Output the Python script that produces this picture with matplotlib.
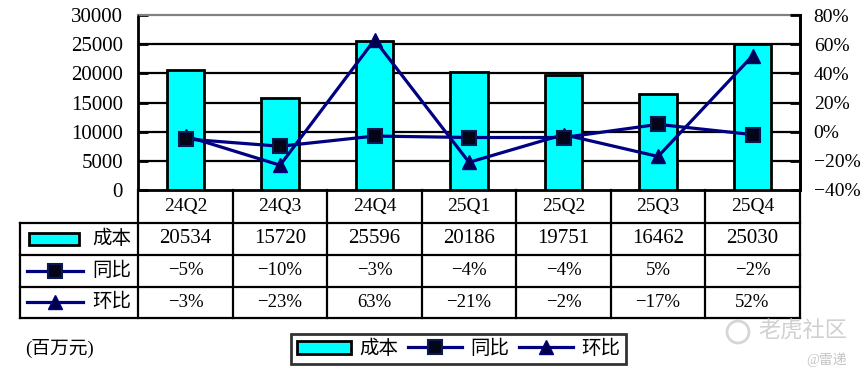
import matplotlib.pyplot as plt
from matplotlib.patches import Rectangle, Circle
from matplotlib.lines import Line2D

# data
quarters = ['24Q2', '24Q3', '24Q4', '25Q1', '25Q2', '25Q3', '25Q4']
cost = [20534, 15720, 25596, 20186, 19751, 16462, 25030]
yoy = [-5, -10, -3, -4, -4, 5, -2]      # 同比 %
qoq = [-3, -23, 63, -21, -2, -17, 52]   # 环比 %

W, H = 864, 382
NUM = ['Liberation Serif', 'Noto Sans CJK SC']
plt.rcParams['font.family'] = NUM
plt.rcParams['font.size'] = 14

navy = '#000080'
cyan = '#00ffff'


def pct(v):
    return f'{v}%'.replace('-', '\u2212')


fig = plt.figure(figsize=(W / 100, H / 100), dpi=100)

# plot area in pixels
x0, x1, ytop, ybot = 138.3, 799.8, 15, 190
ax = fig.add_axes([x0 / W, 1 - ybot / H, (x1 - x0) / W, (ybot - ytop) / H])
xs = list(range(len(quarters)))
bars = ax.bar(xs, cost, width=0.4, color=cyan, edgecolor='black', linewidth=2, zorder=3)
ax.set_xlim(-0.5, len(quarters) - 0.5)
ax.set_ylim(0, 30000)
ax.set_yticks(range(0, 30001, 5000))
ax.set_xticks([])
for v in range(5000, 30000, 5000):
    ax.axhline(v, color='black', lw=1.6, zorder=1)
ax.spines['top'].set_color('#808080')
ax.spines['top'].set_linewidth(1.6)
for s in ['left', 'bottom', 'right']:
    ax.spines[s].set_linewidth(2)
ax.tick_params(axis='y', direction='in', length=7, width=2, pad=11, labelsize=15)

ax2 = ax.twinx()
ax2.set_ylim(-40, 80)
ax2.set_yticks(range(-40, 81, 20))
ax2.set_yticklabels([pct(v) for v in range(-40, 81, 20)])
ax2.tick_params(axis='y', direction='in', length=7, width=2, pad=10, labelsize=14)
ax2.spines['top'].set_visible(False)
ax2.spines['right'].set_linewidth(2)
l_qoq, = ax2.plot(xs, qoq, color=navy, lw=2.3, marker='^', ms=10,
                  mfc='#00004a', mec=navy, zorder=4)
l_yoy, = ax2.plot(xs, yoy, color=navy, lw=2.3, marker='s', ms=9.5,
                  mfc='#05051a', mec='#0a1a50', mew=1.5, zorder=5)

# data table below the chart
ov = fig.add_axes([0, 0, 1, 1])
ov.set_xlim(0, W)
ov.set_ylim(H, 0)
ov.axis('off')
cw = (x1 - x0) / len(quarters)
rows = [190, 222.5, 254.5, 286.5, 318]
lw = 1.6
for i in range(len(quarters) + 1):
    ov.plot([x0 + i * cw] * 2, [rows[0], rows[-1]], color='black', lw=lw)
ov.plot([20, 20], [rows[1], rows[-1]], color='black', lw=lw)
for y in rows[1:]:
    ov.plot([20, x1], [y, y], color='black', lw=lw)

mid = [(rows[k] + rows[k + 1]) / 2 for k in range(4)]
for i, q in enumerate(quarters):
    cx = x0 + (i + 0.5) * cw
    ov.text(cx, mid[0], q, ha='center', va='center', fontsize=14)
    ov.text(cx, mid[1], str(cost[i]), ha='center', va='center', fontsize=15)
    ov.text(cx, mid[2], pct(yoy[i]), ha='center', va='center', fontsize=13.5)
    ov.text(cx, mid[3], pct(qoq[i]), ha='center', va='center', fontsize=13.5)

# row labels with keys
ov.add_patch(Rectangle((29, mid[1] - 6), 50, 12, facecolor=cyan, edgecolor='black', lw=2))
ov.add_line(Line2D([27, 83], [mid[2], mid[2]], color=navy, lw=2.3))
ov.plot([55], [mid[2]], marker='s', ms=9.5, mfc='#05051a', mec='#0a1a50', mew=1.5)
ov.add_line(Line2D([27, 83], [mid[3], mid[3]], color=navy, lw=2.3))
ov.plot([55], [mid[3]], marker='^', ms=10, mfc='#00004a', mec=navy)
for k, name in zip([1, 2, 3], ['成本', '同比', '环比']):
    ov.text(112, mid[k], name, ha='center', va='center', fontsize=14)

ov.text(25, 348, '(百万元)', ha='left', va='center', fontsize=13.5)

# legend
leg = fig.legend([bars, l_yoy, l_qoq], ['成本', '同比', '环比'], ncol=3,
                 loc='center', bbox_to_anchor=(458.5 / W, 1 - 349 / H),
                 frameon=True, fancybox=False, edgecolor='black', fontsize=14,
                 handlelength=2.8, handletextpad=0.4, columnspacing=0.5,
                 borderpad=0.3, borderaxespad=0)
leg.get_frame().set_linewidth(2)

# watermark
ov.add_patch(Circle((738, 332), 11, fill=False, ec='#d6d6d6', lw=2))
ov.text(847, 332, '老虎社区', ha='right', va='center', fontsize=16, color='#d0d0d0')
ov.text(847, 360, '@雷递', ha='right', va='center', fontsize=10, color='#c4c4c4')

fig.savefig('out.png', dpi=100)
